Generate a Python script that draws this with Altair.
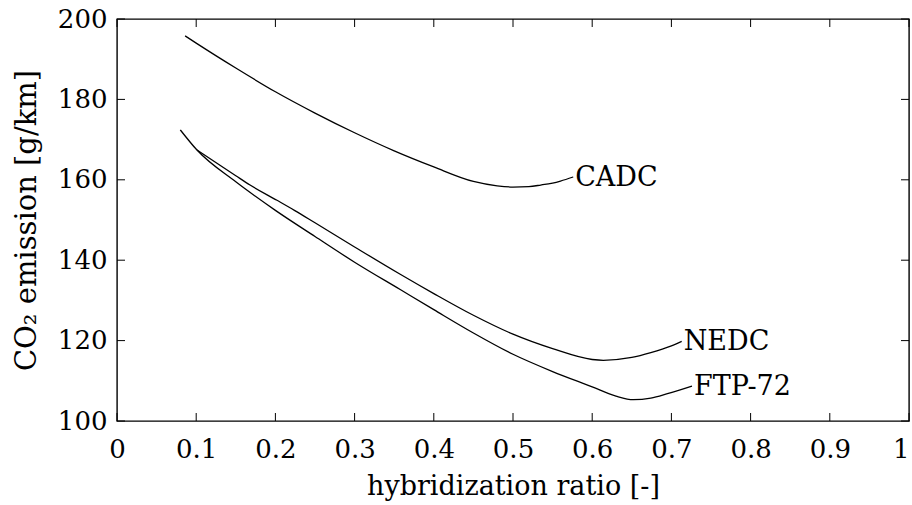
import altair as alt
import pandas as pd

# --- data ---
cadc_x = [0.086, 0.10, 0.15, 0.20, 0.25, 0.30, 0.35, 0.40, 0.45, 0.48, 0.50, 0.52, 0.535, 0.55, 0.56, 0.576]
cadc_y = [195.8, 194.0, 187.8, 181.9, 176.6, 171.7, 167.2, 163.2, 159.6, 158.5, 158.2, 158.3, 158.7, 159.2, 159.7, 160.7]

nedc_x = [0.101, 0.15, 0.168, 0.202, 0.224, 0.25, 0.30, 0.3576, 0.40, 0.45, 0.50, 0.55, 0.60, 0.614, 0.65, 0.674, 0.70, 0.713]
nedc_y = [167.4, 161.0, 158.7, 154.9, 152.4, 149.3, 143.3, 136.5, 131.7, 126.3, 121.6, 118.0, 115.3, 115.1, 115.8, 117.0, 118.7, 119.8]

ftp_x = [0.080, 0.101, 0.15, 0.20, 0.25, 0.30, 0.3576, 0.40, 0.45, 0.50, 0.55, 0.60, 0.63, 0.652, 0.674, 0.695, 0.726]
ftp_y = [172.4, 167.4, 159.5, 152.4, 145.9, 139.5, 132.7, 127.7, 121.9, 116.6, 112.3, 108.5, 106.2, 105.3, 105.7, 106.8, 108.7]

label_names = ["CADC", "NEDC", "FTP-72"]
label_x = [0.576, 0.713, 0.726]
label_y = [160.7, 119.8, 108.7]

x_ticks = [0, 0.1, 0.2, 0.3, 0.4, 0.5, 0.6, 0.7, 0.8, 0.9, 1.0]
y_ticks = [100, 120, 140, 160, 180, 200]

FONT = "DejaVu Serif"
W, H = 792, 402
TICK = 8
FS = 26

rows = []
for name, xs, ys in [("CADC", cadc_x, cadc_y), ("NEDC", nedc_x, nedc_y), ("FTP-72", ftp_x, ftp_y)]:
    for i, (a, b) in enumerate(zip(xs, ys)):
        rows.append({"cycle": name, "ratio": a, "co2": b, "order": i})
lines_df = pd.DataFrame(rows)
labels_df = pd.DataFrame({"cycle": label_names, "ratio": label_x, "co2": label_y})
xt_df = pd.DataFrame({"ratio": x_ticks})
yt_df = pd.DataFrame({"co2": y_ticks})

xscale = alt.Scale(domain=[0, 1], nice=False, zero=False)
yscale = alt.Scale(domain=[100, 200], nice=False, zero=False)

lines = alt.Chart(lines_df).mark_line(
    color="black", strokeWidth=1.3, interpolate="monotone"
).encode(
    x=alt.X("ratio:Q", scale=xscale, axis=alt.Axis(
        values=x_ticks, format=".1~f", title="hybridization ratio [-]",
        ticks=False, domain=False, grid=False, labelPadding=15,
        labelAlign={"expr": "datum.value >= 1 ? 'right' : 'center'"},
        labelFont=FONT, labelFontSize=FS, labelColor="black",
        titleFont=FONT, titleFontSize=27, titleFontWeight="normal", titleColor="black",
        titlePadding=11, labelOverlap=False, labelFlush=False, labelBound=False)),
    y=alt.Y("co2:Q", scale=yscale, axis=alt.Axis(
        values=y_ticks, title="CO₂ emission [g/km]",
        ticks=False, domain=False, grid=False, labelPadding=10,
        labelFont=FONT, labelFontSize=FS, labelColor="black",
        titleFont=FONT, titleFontSize=29, titleFontWeight="normal", titleColor="black",
        titlePadding=16, labelOverlap=False, labelFlush=False, labelBound=False)),
    detail="cycle:N",
    order="order:Q",
)

labels = alt.Chart(labels_df).mark_text(
    align="left", baseline="alphabetic", dx=2, dy=9,
    font=FONT, fontSize=27, color="black"
).encode(x=alt.X("ratio:Q", scale=xscale), y=alt.Y("co2:Q", scale=yscale), text="cycle:N")

tick_style = dict(color="black", strokeWidth=1)
bottom_ticks = alt.Chart(xt_df).mark_rule(**tick_style).encode(
    x=alt.X("ratio:Q", scale=xscale), y=alt.value(H), y2=alt.value(H - TICK))
top_ticks = alt.Chart(xt_df).mark_rule(**tick_style).encode(
    x=alt.X("ratio:Q", scale=xscale), y=alt.value(0), y2=alt.value(TICK))
left_ticks = alt.Chart(yt_df).mark_rule(**tick_style).encode(
    y=alt.Y("co2:Q", scale=yscale), x=alt.value(0), x2=alt.value(TICK))
right_ticks = alt.Chart(yt_df).mark_rule(**tick_style).encode(
    y=alt.Y("co2:Q", scale=yscale), x=alt.value(W), x2=alt.value(W - TICK))

chart = alt.layer(
    bottom_ticks, top_ticks, left_ticks, right_ticks, lines, labels
).properties(
    width=W, height=H,
    autosize=alt.AutoSizeParams(type="none"),
    padding={"left": 117, "top": 19, "right": 3, "bottom": 84},
    background="white",
).configure_view(stroke="black", strokeWidth=1.4)

chart.save("out.html", embed_options={"renderer": "svg", "actions": False})
